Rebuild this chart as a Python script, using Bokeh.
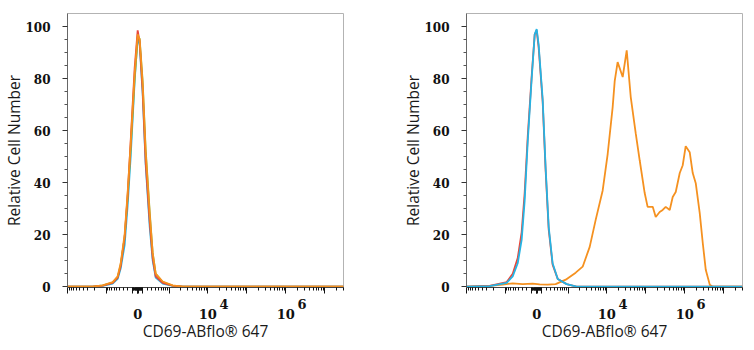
import numpy as np
from bokeh.plotting import figure
from bokeh.models import (Range1d, FixedTicker, CustomJSTickFormatter,
                          CustomJSTransform, ColumnDataSource)
from bokeh.transform import transform
from bokeh.layouts import row
from bokeh.embed import file_html
from bokeh.resources import INLINE

# ---------------- data (fluorescence intensity, relative cell number) ----------------
COFACTOR = 318.0

left_x = [-10000, -2250, -1230, -660, -470, -375, -270, -200, -135, -57, 0,
          37, 95, 155, 245, 320, 405, 660, 1230, 2250, 30000000]
left_orange = [0, 0, 0.5, 1.8, 4, 9, 20, 36, 55, 82, 97,
               95, 78, 52, 28, 13, 5, 2, 0.5, 0, 0]
left_red = [0, 0, 0.4, 1.5, 3.5, 8, 19, 35, 56, 84, 98.5,
            94, 75, 48, 25, 11, 4, 1.5, 0.4, 0, 0]
left_green = [0, 0, 0.5, 1.6, 3.6, 8.5, 19, 34, 53, 80, 95,
              95.5, 79, 53, 29, 13, 5, 1.8, 0.4, 0, 0]
left_cyan = [0, 0, 0.3, 1.2, 3, 7, 16, 31, 50, 79, 96,
             93, 74, 47, 23, 10, 3.5, 1.2, 0.3, 0, 0]

right_ctrl_x = [-10000, -2550, -905, -615, -435, -320, -245, -175, -95, -37, 0,
                37, 115, 175, 245, 345, 505, 905, 1670, 30000000]
right_cyan = [0, 0.2, 1.5, 4, 9, 18, 33, 56, 80, 97, 99,
              93, 72, 46, 23, 9, 3, 1, 0, 0]
right_red = [0, 0.3, 1.8, 5, 11, 21, 36, 58, 81, 97, 98.5,
             92, 71, 45, 22, 8.5, 3, 1, 0, 0]

right_orange_x = [-10000, -2550, -1160, -615, -295, -76, 57, 220, 435, 855,
                  1575, 2390, 3630, 5170, 7820, 10500, 14100, 15900, 18900, 25500,
                  32300, 40900, 54900, 69500, 93300, 111000, 150000, 179000, 226000, 270000,
                  323000, 409000, 488000, 583000, 739000, 882000, 1050000, 1330000, 1590000, 1900000,
                  2400000, 2870000, 3430000, 4340000, 5180000, 30000000]
right_orange = [0, 0.3, 0.8, 1.3, 1.0, 1.2, 0.9, 0.8, 1.0, 2.7,
                5.4, 7.7, 15.3, 25.7, 37, 51, 69, 79, 86.3, 80.6,
                90.8, 73, 59, 48.6, 36, 30.7, 30.7, 26.8, 28.7, 29.5,
                30.7, 29.5, 34.5, 36.4, 43.7, 46.7, 54, 51.7, 43.7, 39.8,
                28.4, 16.9, 6.5, 0.8, 0, 0]

y_major = [0, 20, 40, 60, 80, 100]
# tick labels: exponent line above the base line (rendered as superscript)
FS = "\u2007"
TS = "\u2009"
x_tick_text = {0: FS + "\n0",
               4: FS * 3 + TS * 2 + "4\n10",
               6: FS * 3 + TS * 2 + "6\n10"}
x_label = "CD69-ABflo\u00ae 647"
y_label = "Relative Cell Number"

RED = "#e8473a"
ORANGE = "#f59120"
GREEN = "#98b43c"
CYAN = "#25b4e4"

# ---------------- helpers ----------------
def disp(v):
    return np.arcsinh(np.asarray(v, dtype=float) / COFACTOR) / np.log(10)

asinh_tf = CustomJSTransform(
    args=dict(w=COFACTOR),
    func="return Math.asinh(x / w) / Math.LN10;",
    v_func="return Array.from(xs, (x) => Math.asinh(x / w) / Math.LN10);",
)

majors_raw = [0.0]
minors_raw = []
for n in range(1, 8):
    for sgn in (1, -1):
        if sgn < 0 and n > 4:
            continue
        majors_raw.append(sgn * 10.0 ** n)
        for k in range(2, 10):
            v = sgn * k * 10.0 ** n
            if -10000 <= v <= 30000000:
                minors_raw.append(v)
x_major = [float(t) for t in disp(majors_raw)]
x_minor = [float(t) for t in disp(minors_raw)]
t4 = float(disp(1e4))
t6 = float(disp(1e6))

y_minor = [v for v in range(5, 105, 5) if v not in y_major]


def make_panel(curves, border_left, border_right):
    p = figure(frame_width=276, frame_height=274,
               min_border_left=border_left, min_border_right=border_right,
               min_border_top=13, min_border_bottom=50,
               x_range=Range1d(float(disp(-1e4)), float(disp(3e7))),
               y_range=Range1d(-0.3, 105),
               output_backend="svg", toolbar_location=None,
               background_fill_color="white", border_fill_color="white")
    p.grid.visible = False
    p.outline_line_color = "#b3b3b3"
    p.outline_line_width = 1

    for xs, ys, col in curves:
        src = ColumnDataSource(dict(x=xs, y=ys))
        p.line(x=transform("x", asinh_tf), y="y", source=src,
               line_color=col, line_width=1.8)

    xa = p.xaxis[0]
    xa.ticker = FixedTicker(ticks=x_major, minor_ticks=x_minor)
    xa.formatter = CustomJSTickFormatter(
        args=dict(t4=t4, t6=t6, l0=x_tick_text[0], l4=x_tick_text[4], l6=x_tick_text[6]),
        code="""
        if (Math.abs(tick) < 1e-9) return l0;
        if (Math.abs(tick - t4) < 1e-6) return l4;
        if (Math.abs(tick - t6) < 1e-6) return l6;
        return '';
        """)
    xa.major_tick_out = 6
    xa.major_tick_in = 0
    xa.minor_tick_out = 3
    xa.minor_tick_in = 0
    xa.axis_line_color = "#444444"
    xa.major_tick_line_color = "#111111"
    xa.minor_tick_line_color = "#111111"
    xa.major_label_text_font = "DejaVu Serif"
    xa.major_label_text_font_size = "13px"
    xa.major_label_text_font_style = "bold"
    xa.major_label_text_line_height = 0.7
    xa.major_label_text_color = "#111111"
    xa.major_label_standoff = 3
    xa.axis_label = x_label
    xa.axis_label_text_font = "Open Sans"
    xa.axis_label_text_font_size = "15.5px"
    xa.axis_label_text_font_style = "normal"
    xa.axis_label_text_color = "#1a1a1a"
    xa.axis_label_standoff = -5

    ya = p.yaxis[0]
    ya.ticker = FixedTicker(ticks=y_major, minor_ticks=y_minor)
    ya.major_tick_out = 5
    ya.major_tick_in = 0
    ya.minor_tick_out = 3
    ya.minor_tick_in = 0
    ya.axis_line_color = "#666666"
    ya.major_tick_line_color = "#333333"
    ya.minor_tick_line_color = "#555555"
    ya.major_label_text_font = "DejaVu Serif"
    ya.major_label_text_font_size = "12px"
    ya.major_label_text_font_style = "bold"
    ya.major_label_text_color = "#111111"
    ya.major_label_standoff = 12
    ya.axis_label = y_label
    ya.axis_label_text_font = "Open Sans"
    ya.axis_label_text_font_size = "15.5px"
    ya.axis_label_text_font_style = "normal"
    ya.axis_label_text_color = "#1a1a1a"
    ya.axis_label_standoff = -3
    return p


p1 = make_panel([(left_x, left_cyan, CYAN), (left_x, left_green, GREEN),
                 (left_x, left_red, RED), (left_x, left_orange, ORANGE)], 57, 36)
p2 = make_panel([(right_orange_x, right_orange, ORANGE),
                 (right_ctrl_x, right_red, RED),
                 (right_ctrl_x, right_cyan, CYAN)], 87, 6)

layout = row(p1, p2)
open("out.html", "w").write(file_html(layout, INLINE))
